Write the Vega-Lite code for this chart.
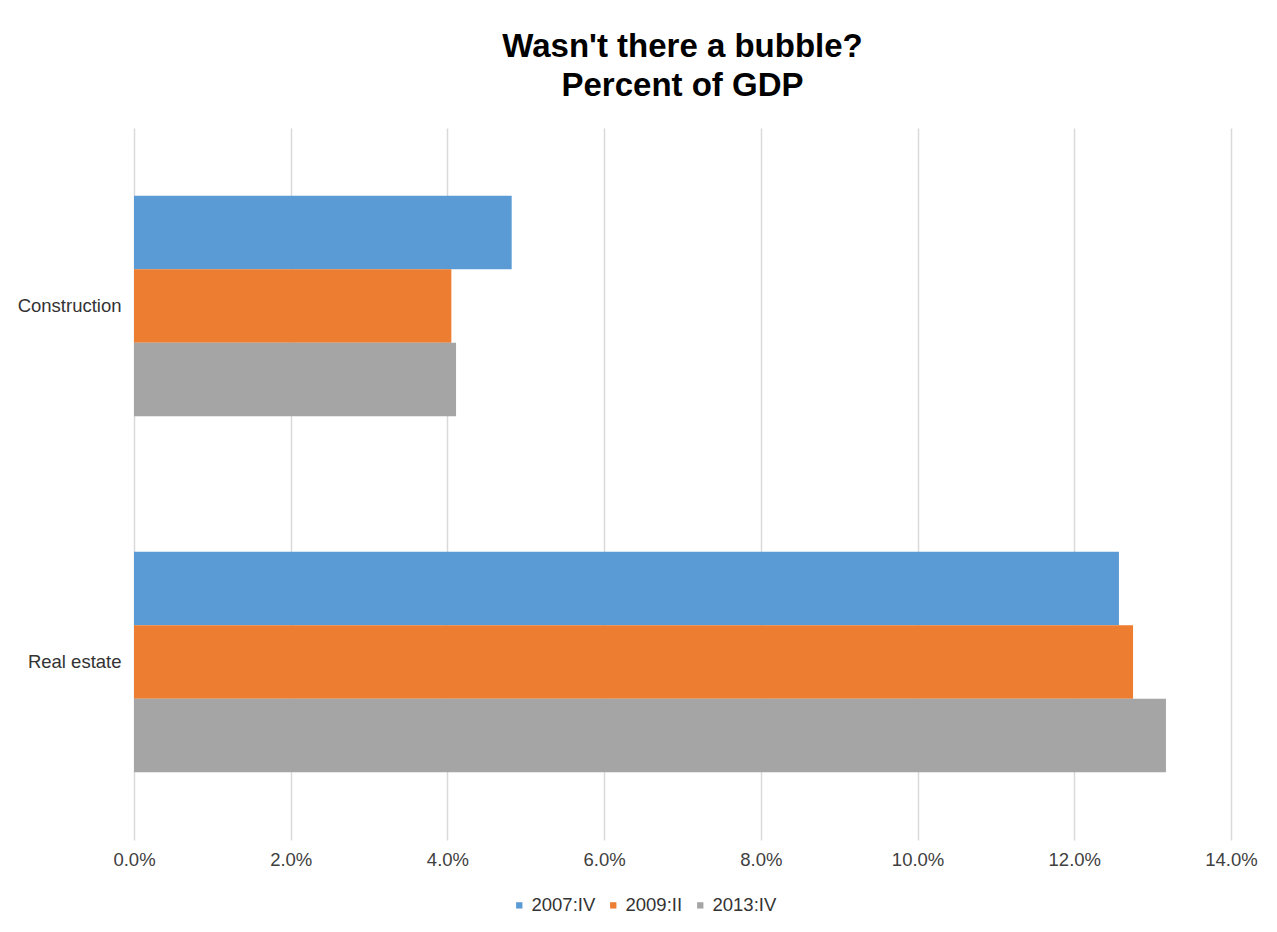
{
  "$schema": "https://vega.github.io/schema/vega-lite/v6.json",
  "autosize": {"type": "none"},
  "width": 1097,
  "height": 712,
  "padding": {"left": 134, "top": 128, "right": 46, "bottom": 92},
  "background": "white",
  "title": {
    "text": ["Wasn't there a bubble?", "Percent of GDP"],
    "font": "Liberation Sans",
    "fontSize": 33,
    "fontWeight": "bold",
    "color": "#000000",
    "lineHeight": 39,
    "anchor": "middle",
    "offset": 25
  },
  "data": {
    "values": [
      {"sector": "Construction", "period": "2007:IV", "pct": 4.82},
      {"sector": "Construction", "period": "2009:II", "pct": 4.05},
      {"sector": "Construction", "period": "2013:IV", "pct": 4.11},
      {"sector": "Real estate", "period": "2007:IV", "pct": 12.57},
      {"sector": "Real estate", "period": "2009:II", "pct": 12.75},
      {"sector": "Real estate", "period": "2013:IV", "pct": 13.17}
    ]
  },
  "mark": {"type": "bar"},
  "encoding": {
    "y": {
      "field": "sector",
      "type": "nominal",
      "sort": ["Construction", "Real estate"],
      "scale": {"paddingInner": 0.38, "paddingOuter": 0.19},
      "axis": {
        "title": null,
        "domain": false,
        "ticks": false,
        "labelPadding": 13,
        "labelFont": "Liberation Sans",
        "labelFontSize": 18.5,
        "labelColor": "#333333"
      }
    },
    "yOffset": {
      "field": "period",
      "type": "nominal",
      "sort": ["2007:IV", "2009:II", "2013:IV"],
      "scale": {"paddingInner": 0, "paddingOuter": 0}
    },
    "x": {
      "field": "pct",
      "type": "quantitative",
      "scale": {"domain": [0, 14], "nice": false},
      "axis": {
        "title": null,
        "values": [0, 2, 4, 6, 8, 10, 12, 14],
        "labelExpr": "format(datum.value, '.1f') + '%'",
        "domain": false,
        "ticks": false,
        "grid": true,
        "gridColor": "#d9d9d9",
        "gridWidth": 1.5,
        "labelPadding": 10,
        "labelFont": "Liberation Sans",
        "labelFontSize": 18.5,
        "labelColor": "#404040",
        "labelFlush": false
      }
    },
    "color": {
      "field": "period",
      "type": "nominal",
      "sort": ["2007:IV", "2009:II", "2013:IV"],
      "scale": {"domain": ["2007:IV", "2009:II", "2013:IV"], "range": ["#5B9BD5", "#ED7D31", "#A5A5A5"]},
      "legend": {
        "title": null,
        "orient": "none",
        "legendX": 376,
        "legendY": 768,
        "direction": "horizontal",
        "symbolType": "square",
        "symbolSize": 40,
        "symbolStrokeWidth": 0,
        "labelOffset": 3,
        "columnPadding": 8,
        "labelFont": "Liberation Sans",
        "labelFontSize": 18.5,
        "labelColor": "#333333"
      }
    }
  },
  "config": {
    "view": {"stroke": null}
  }
}
